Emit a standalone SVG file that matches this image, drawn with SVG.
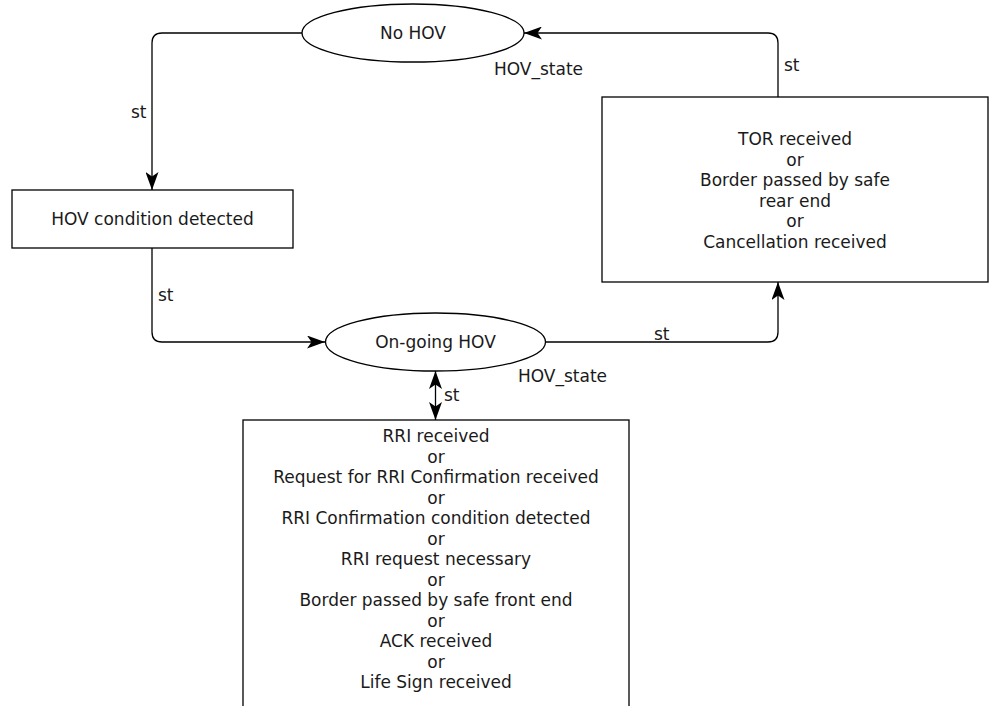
<svg xmlns="http://www.w3.org/2000/svg" width="990" height="706" viewBox="0 0 990 706">
<defs>
<marker id="arr" viewBox="0 0 18 13" refX="18" refY="6.5" markerWidth="18" markerHeight="13" markerUnits="userSpaceOnUse" orient="auto-start-reverse">
<path d="M18,6.5 L0,0 L4.5,6.5 L0,13 Z" fill="#000"/>
</marker>
<style>
.shape{fill:#fff;stroke:#000;stroke-width:1.3}
.edge{fill:none;stroke:#000;stroke-width:1.3}
text{font-family:"DejaVu Sans","Liberation Sans",sans-serif;font-size:17px;fill:#1a1a1a}
.c{text-anchor:middle}
</style>
</defs>
<rect width="990" height="706" fill="#fff"/>
<g id="connectors">
<path class="edge" d="M302,33 H162 Q152,33 152,43 V190" marker-end="url(#arr)"/>
<path class="edge" d="M152,248 V332 Q152,342 162,342 H325" marker-end="url(#arr)"/>
<path class="edge" d="M546,342 H768 Q778,342 778,332 V282" marker-end="url(#arr)"/>
<path class="edge" d="M778,97 V43 Q778,33 768,33 H524" marker-end="url(#arr)"/>
<path class="edge" d="M435.5,371 V420" marker-start="url(#arr)" marker-end="url(#arr)"/>
<text x="131" y="118">st</text>
<text x="158" y="301">st</text>
<text x="654" y="340">st</text>
<text x="784" y="71">st</text>
<text x="444" y="401">st</text>
</g>
<g id="no-hov">
<ellipse class="shape" cx="413" cy="33" rx="111" ry="29"/>
<text class="c" x="413" y="39">No HOV</text>
<text x="494" y="75">HOV_state</text>
</g>
<g id="hov-condition">
<rect class="shape" x="12" y="190" width="281" height="58"/>
<text class="c" x="152.5" y="225">HOV condition detected</text>
</g>
<g id="ongoing-hov">
<ellipse class="shape" cx="435.5" cy="342" rx="110" ry="29"/>
<text class="c" x="435.5" y="348">On-going HOV</text>
<text x="518" y="382">HOV_state</text>
</g>
<g id="tor-box">
<rect class="shape" x="602" y="97" width="386" height="185"/>
<text class="c" x="795" y="145">TOR received</text>
<text class="c" x="795" y="165.5">or</text>
<text class="c" x="795" y="186">Border passed by safe</text>
<text class="c" x="795" y="206.5">rear end</text>
<text class="c" x="795" y="227">or</text>
<text class="c" x="795" y="247.5">Cancellation received</text>
</g>
<g id="rri-box">
<rect class="shape" x="243" y="420" width="386" height="300"/>
<text class="c" x="436" y="442">RRI received</text>
<text class="c" x="436" y="462.5">or</text>
<text class="c" x="436" y="483">Request for RRI Confirmation received</text>
<text class="c" x="436" y="503.5">or</text>
<text class="c" x="436" y="524">RRI Confirmation condition detected</text>
<text class="c" x="436" y="544.5">or</text>
<text class="c" x="436" y="565">RRI request necessary</text>
<text class="c" x="436" y="585.5">or</text>
<text class="c" x="436" y="606">Border passed by safe front end</text>
<text class="c" x="436" y="626.5">or</text>
<text class="c" x="436" y="647">ACK received</text>
<text class="c" x="436" y="667.5">or</text>
<text class="c" x="436" y="688">Life Sign received</text>
</g>
</svg>
